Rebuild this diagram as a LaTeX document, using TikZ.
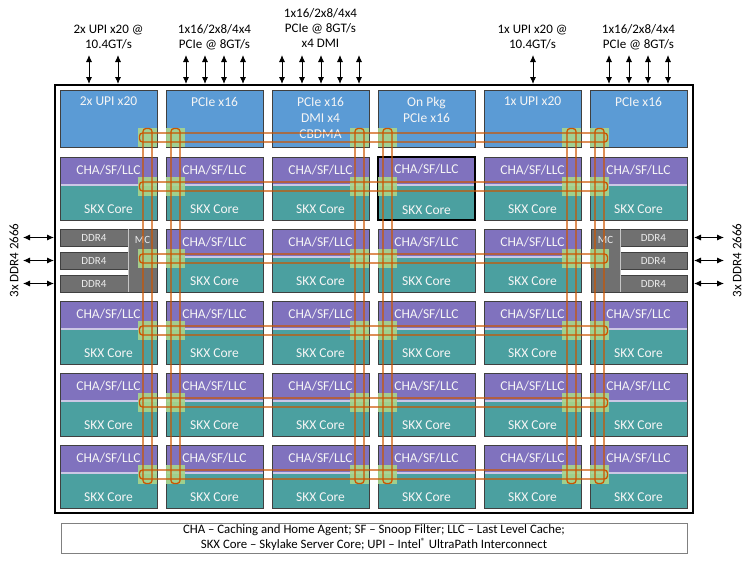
\documentclass[tikz,border=0pt]{standalone}
\usepackage{fontspec}
\setmainfont{Carlito}
\usetikzlibrary{arrows.meta,calc}
\definecolor{iob}{RGB}{91,155,213}
\definecolor{chap}{RGB}{128,114,190}
\definecolor{skxt}{RGB}{75,160,160}
\definecolor{mcg}{RGB}{112,112,112}
\definecolor{stopg}{RGB}{169,214,140}
\definecolor{ringo}{RGB}{204,85,0}
\definecolor{tileb}{RGB}{64,64,64}
\tikzset{
  tiletxt/.style={text=white!92!gray, font=\fontsize{13.5}{16}\selectfont, inner sep=0pt},
  iotxt/.style={tiletxt, align=center, anchor=north, yshift=-7pt},
  io/.style={draw=tileb, fill=iob, minimum width=97pt, minimum height=57pt, inner sep=0pt},
  core/.style={draw=tileb, fill=skxt, minimum width=97pt, minimum height=63pt, inner sep=0pt,
    path picture={
      \fill[chap] (path picture bounding box.north west) rectangle ([yshift=-27pt]path picture bounding box.north east);
      \fill[chap!40!white] ([yshift=-27pt]path picture bounding box.north west) rectangle ([yshift=-29pt]path picture bounding box.north east);},
    label={[tiletxt, anchor=base, yshift=-17.5pt]north:CHA/SF/LLC},
    label={[tiletxt, anchor=base, yshift=6.5pt]south:SKX Core}},
  hl/.style={draw=black, line width=1.6pt},
  ddr/.style={draw=tileb, fill=mcg, minimum width=68pt, minimum height=17pt, inner sep=0pt,
    text=white!85!gray, font=\fontsize{11}{12}\selectfont},
  mc/.style={draw=tileb, fill=mcg, minimum width=29pt, minimum height=63pt, inner sep=0pt,
    label={[text=white!85!gray, font=\fontsize{11}{12}\selectfont, inner sep=0pt, anchor=base, yshift=-15pt]north:MC}},
  stop/.style={fill=stopg, fill opacity=0.9, minimum size=19pt, inner sep=0pt},
  ring/.style={draw=ringo, line width=1.3pt, rounded corners=3pt},
  dbl/.style={{Latex[length=7pt,width=6pt]}-{Latex[length=7pt,width=6pt]}, line width=0.9pt},
  lab/.style={font=\fontsize{13}{15}\selectfont, align=center, inner sep=0pt}
}
\begin{document}
\begin{tikzpicture}[x=1pt, y=-1pt]
\useasboundingbox (0,0) rectangle (750,560);
\node[draw, line width=2pt, minimum width=638pt, minimum height=428pt] (die) at (374,299){};
% io tiles
\node[io, label={[iotxt]north:2x UPI x20}] (io1) at (108.5,118.5){};
\node[io, label={[iotxt]north:PCIe x16}] (io2) at (214.5,118.5){};
\node[io, label={[iotxt]north:PCIe x16\\DMI x4\\CBDMA}] (io3) at (320.5,118.5){};
\node[io, label={[iotxt]north:On Pkg\\PCIe x16}] (io4) at (426.5,118.5){};
\node[io, label={[iotxt]north:1x UPI x20}] (io5) at (532.5,118.5){};
\node[io, label={[iotxt]north:PCIe x16}] (io6) at (638.5,118.5){};
% cores
\node[core] (t21) at (108.5,188.5){};
\node[core] (t22) at (214.5,188.5){};
\node[core] (t23) at (320.5,188.5){};
\node[core, hl] (t24) at (426.5,188.5){};
\node[core] (t25) at (532.5,188.5){};
\node[core] (t26) at (638.5,188.5){};
\node[core] (t32) at (214.5,260.5){};
\node[core] (t33) at (320.5,260.5){};
\node[core] (t34) at (426.5,260.5){};
\node[core] (t35) at (532.5,260.5){};
\node[core] (t41) at (108.5,332.5){};
\node[core] (t42) at (214.5,332.5){};
\node[core] (t43) at (320.5,332.5){};
\node[core] (t44) at (426.5,332.5){};
\node[core] (t45) at (532.5,332.5){};
\node[core] (t46) at (638.5,332.5){};
\node[core] (t51) at (108.5,404.5){};
\node[core] (t52) at (214.5,404.5){};
\node[core] (t53) at (320.5,404.5){};
\node[core] (t54) at (426.5,404.5){};
\node[core] (t55) at (532.5,404.5){};
\node[core] (t56) at (638.5,404.5){};
\node[core] (t61) at (108.5,476.5){};
\node[core] (t62) at (214.5,476.5){};
\node[core] (t63) at (320.5,476.5){};
\node[core] (t64) at (426.5,476.5){};
\node[core] (t65) at (532.5,476.5){};
\node[core] (t66) at (638.5,476.5){};
% memory controllers
\node[ddr] (dl1) at (94,237.5){DDR4};
\node[ddr] (dl2) at (94,260.5){DDR4};
\node[ddr] (dl3) at (94,283.5){DDR4};
\node[mc] (mcl) at (142.5,260.5){};
\node[ddr] (dr1) at (653.5,237.5){DDR4};
\node[ddr] (dr2) at (653.5,260.5){DDR4};
\node[ddr] (dr3) at (653.5,283.5){DDR4};
\node[mc] (mcr) at (605.5,260.5){};
\draw[gray!45] (mcl.north west) -- (mcl.south west);
\draw[gray!45] (mcr.north east) -- (mcr.south east);
% mesh stops
\node[stop] (s11) at (147.5,137.5){};
\node[stop] (s12) at (175.5,137.5){};
\node[stop] (s13) at (359.5,137.5){};
\node[stop] (s14) at (387.5,137.5){};
\node[stop] (s15) at (571.5,137.5){};
\node[stop] (s16) at (599.5,137.5){};
\node[stop] (s21) at (147.5,186.5){};
\node[stop] (s22) at (175.5,186.5){};
\node[stop] (s23) at (359.5,186.5){};
\node[stop] (s24) at (387.5,186.5){};
\node[stop] (s25) at (571.5,186.5){};
\node[stop] (s26) at (599.5,186.5){};
\node[stop] (s31) at (147.5,258.5){};
\node[stop] (s32) at (175.5,258.5){};
\node[stop] (s33) at (359.5,258.5){};
\node[stop] (s34) at (387.5,258.5){};
\node[stop] (s35) at (571.5,258.5){};
\node[stop] (s36) at (599.5,258.5){};
\node[stop] (s41) at (147.5,330.5){};
\node[stop] (s42) at (175.5,330.5){};
\node[stop] (s43) at (359.5,330.5){};
\node[stop] (s44) at (387.5,330.5){};
\node[stop] (s45) at (571.5,330.5){};
\node[stop] (s46) at (599.5,330.5){};
\node[stop] (s51) at (147.5,402.5){};
\node[stop] (s52) at (175.5,402.5){};
\node[stop] (s53) at (359.5,402.5){};
\node[stop] (s54) at (387.5,402.5){};
\node[stop] (s55) at (571.5,402.5){};
\node[stop] (s56) at (599.5,402.5){};
\node[stop] (s61) at (147.5,474.5){};
\node[stop] (s62) at (175.5,474.5){};
\node[stop] (s63) at (359.5,474.5){};
\node[stop] (s64) at (387.5,474.5){};
\node[stop] (s65) at (571.5,474.5){};
\node[stop] (s66) at (599.5,474.5){};
% rings
\draw[ring] ($(s11)+(-8,-4.5)$) rectangle ($(s16)+(8,4.5)$);
\draw[ring] ($(s21)+(-8,-4.5)$) rectangle ($(s26)+(8,4.5)$);
\draw[ring] ($(s31)+(-8,-4.5)$) rectangle ($(s36)+(8,4.5)$);
\draw[ring] ($(s41)+(-8,-4.5)$) rectangle ($(s46)+(8,4.5)$);
\draw[ring] ($(s51)+(-8,-4.5)$) rectangle ($(s56)+(8,4.5)$);
\draw[ring] ($(s61)+(-8,-4.5)$) rectangle ($(s66)+(8,4.5)$);
\draw[ring] ($(s11)+(-4.5,-9)$) rectangle ($(s61)+(4.5,9)$);
\draw[ring] ($(s12)+(-4.5,-9)$) rectangle ($(s62)+(4.5,9)$);
\draw[ring] ($(s13)+(-4.5,-9)$) rectangle ($(s63)+(4.5,9)$);
\draw[ring] ($(s14)+(-4.5,-9)$) rectangle ($(s64)+(4.5,9)$);
\draw[ring] ($(s15)+(-4.5,-9)$) rectangle ($(s65)+(4.5,9)$);
\draw[ring] ($(s16)+(-4.5,-9)$) rectangle ($(s66)+(4.5,9)$);
% io links
\coordinate (u1) at (89,55);
\coordinate (u2) at (118,55);
\coordinate (u3) at (186,55);
\coordinate (u4) at (205,55);
\coordinate (u5) at (224,55);
\coordinate (u6) at (243,55);
\coordinate (u7) at (282,55);
\coordinate (u8) at (302,55);
\coordinate (u9) at (321,55);
\coordinate (u10) at (340,55);
\coordinate (u11) at (359,55);
\coordinate (u12) at (533,55);
\coordinate (u13) at (609,55);
\coordinate (u14) at (629,55);
\coordinate (u15) at (648,55);
\coordinate (u16) at (668,55);
\draw[dbl] (u1) -- (u1 |- die.north);
\draw[dbl] (u2) -- (u2 |- die.north);
\draw[dbl] (u3) -- (u3 |- die.north);
\draw[dbl] (u4) -- (u4 |- die.north);
\draw[dbl] (u5) -- (u5 |- die.north);
\draw[dbl] (u6) -- (u6 |- die.north);
\draw[dbl] (u7) -- (u7 |- die.north);
\draw[dbl] (u8) -- (u8 |- die.north);
\draw[dbl] (u9) -- (u9 |- die.north);
\draw[dbl] (u10) -- (u10 |- die.north);
\draw[dbl] (u11) -- (u11 |- die.north);
\draw[dbl] (u12) -- (u12 |- die.north);
\draw[dbl] (u13) -- (u13 |- die.north);
\draw[dbl] (u14) -- (u14 |- die.north);
\draw[dbl] (u15) -- (u15 |- die.north);
\draw[dbl] (u16) -- (u16 |- die.north);
\coordinate (ml1) at (23,237.5);
\coordinate (ml2) at (23,260.5);
\coordinate (ml3) at (23,283.5);
\coordinate (mr1) at (724,237.5);
\coordinate (mr2) at (724,260.5);
\coordinate (mr3) at (724,283.5);
\draw[dbl] (ml1) -- (ml1 -| die.west);
\draw[dbl] (ml2) -- (ml2 -| die.west);
\draw[dbl] (ml3) -- (ml3 -| die.west);
\draw[dbl] (mr1 -| die.east) -- (mr1);
\draw[dbl] (mr2 -| die.east) -- (mr2);
\draw[dbl] (mr3 -| die.east) -- (mr3);
% labels
\node[lab] (lupi2) at (108.5,37.5){2x UPI x20 @\\10.4GT/s};
\node[lab] (lpcie1) at (214.5,37.5){1x16/2x8/4x4\\PCIe @ 8GT/s};
\node[lab] (lpcie2) at (320.5,28){1x16/2x8/4x4\\PCIe @ 8GT/s\\x4 DMI};
\node[lab] (lupi1) at (532.5,37.5){1x UPI x20 @\\10.4GT/s};
\node[lab] (lpcie3) at (638.5,37.5){1x16/2x8/4x4\\PCIe @ 8GT/s};
\node[lab, rotate=90] (lddrl) at (14,260.5){3x DDR4 2666};
\node[lab, rotate=90] (lddrr) at (737,260.5){3x DDR4 2666};
\node[draw=gray, minimum width=626pt, minimum height=30pt, align=center, inner sep=0pt,
  font=\fontsize{12.8}{15}\selectfont] (legend) at (374,538)
  {CHA -- Caching and Home Agent; SF -- Snoop Filter; LLC -- Last Level Cache;\\
   SKX Core -- Skylake Server Core; UPI -- Intel\textsuperscript{®} UltraPath Interconnect};
\end{tikzpicture}
\end{document}
